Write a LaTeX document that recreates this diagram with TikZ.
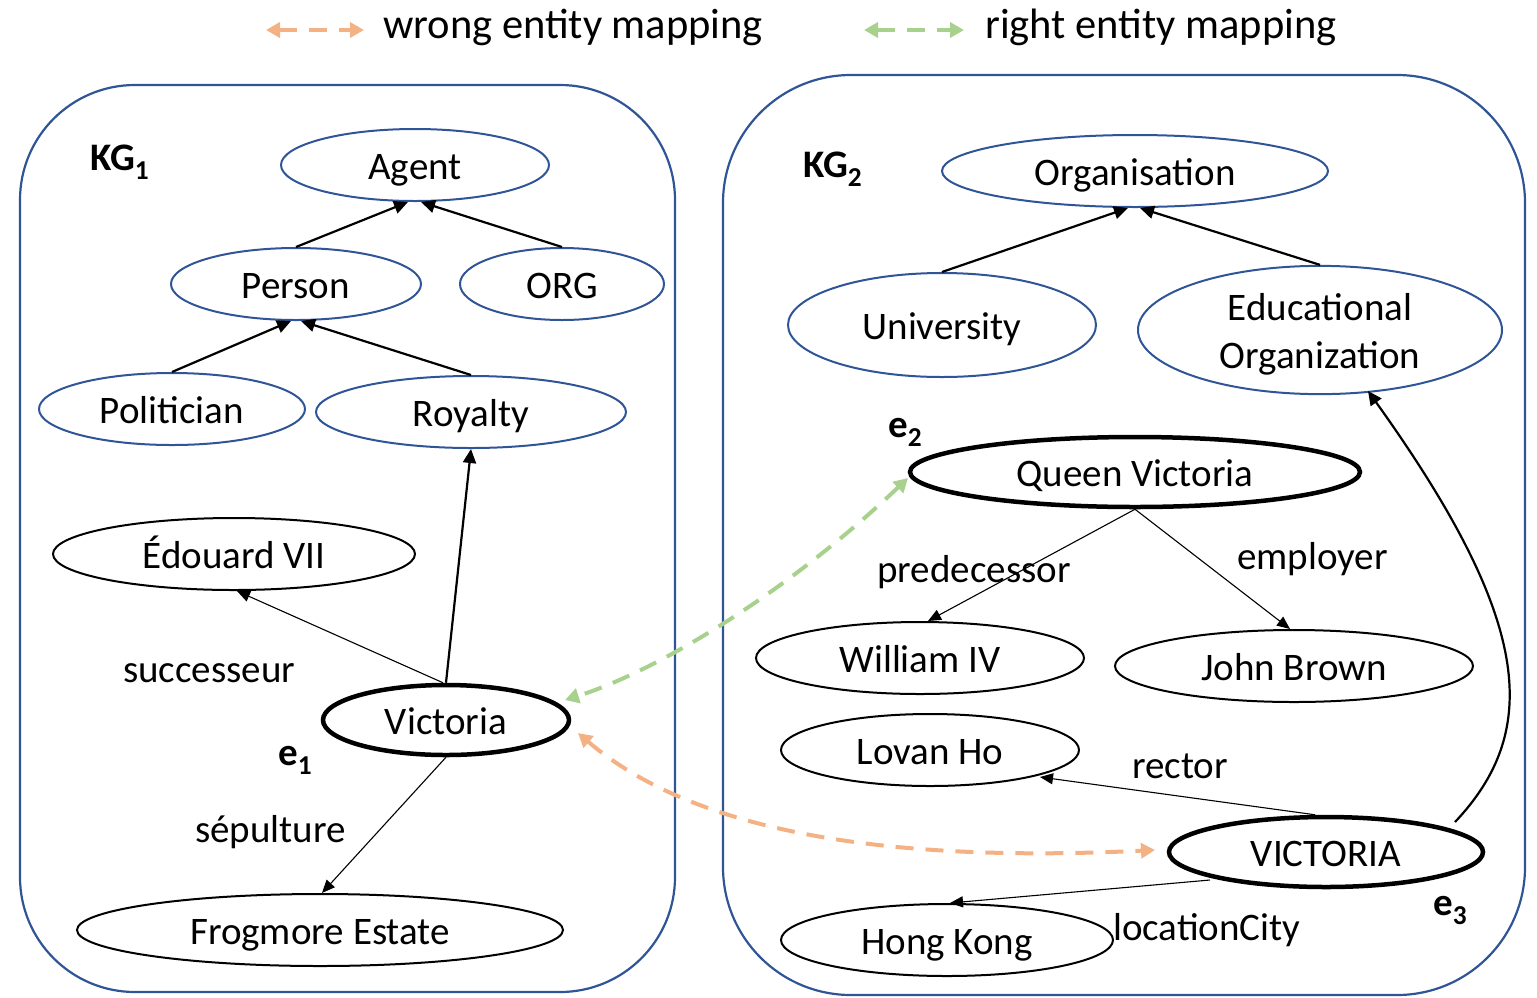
\documentclass[tikz,border=0pt]{standalone}
\usepackage{fontspec}
\setmainfont{Carlito}
\usetikzlibrary{shapes.geometric,arrows.meta,calc}
\definecolor{kgblue}{RGB}{47,85,151}
\definecolor{wrongc}{RGB}{244,177,131}
\definecolor{rightc}{RGB}{169,209,142}
\begin{document}
\begin{tikzpicture}[x=1pt,y=-1pt,
  font=\fontsize{39}{48}\selectfont,
  kgbox/.style={draw=kgblue,line width=2.2pt,rounded corners=115pt},
  oval/.style={ellipse,inner sep=0pt,align=center,text height=32pt,text depth=3pt},
  cls/.style={oval,draw=kgblue,line width=2pt},
  ent/.style={oval,draw=black,line width=2pt},
  seed/.style={oval,draw=black,line width=4.5pt},
  isa/.style={line width=2.2pt,-{Triangle[length=14pt,width=13pt]}},
  rel/.style={line width=1.1pt,-{Triangle[length=13pt,width=11pt]}},
  mapw/.style={draw=wrongc,line width=4pt,dash pattern=on 18pt off 12pt,
    {Triangle[length=14pt,width=15pt]}-{Triangle[length=14pt,width=15pt]}},
  mapr/.style={draw=rightc,line width=4pt,dash pattern=on 18pt off 12pt,
    {Triangle[length=14pt,width=15pt]}-{Triangle[length=14pt,width=15pt]}},
  lbl/.style={anchor=base west,inner sep=0pt}
]
\useasboundingbox (0,0) rectangle (1537,997);

% legend
\coordinate (lw1) at (266,30); \coordinate (lw2) at (364,30);
\coordinate (lr1) at (864,30); \coordinate (lr2) at (964,30);
\draw[mapw] (lw1) -- (lw2);
\draw[mapr] (lr1) -- (lr2);
\node[lbl,font=\fontsize{42.5}{48}\selectfont] (legw) at (383,38) {wrong entity mapping};
\node[lbl,font=\fontsize{42.5}{48}\selectfont] (legr) at (985,38) {right entity mapping};

% the two knowledge graphs
\draw[kgbox] (20,85) rectangle (675,992);
\draw[kgbox,rounded corners=128pt] (723,75) rectangle (1525,995);

% KG1
\node[lbl] (kg1) at (90,170) {\textbf{KG\textsubscript{1}}};
\node[cls,minimum width=268pt,minimum height=72pt] (agent) at (415,165) {Agent};
\node[cls,minimum width=250pt,minimum height=72pt] (person) at (296,284) {Person};
\node[cls,minimum width=204pt,minimum height=72pt] (org) at (562,284) {ORG};
\node[cls,minimum width=266pt,minimum height=72pt] (politician) at (172,409) {Politician};
\node[cls,minimum width=310pt,minimum height=72pt] (royalty) at (471,412) {Royalty};
\node[ent,minimum width=362pt,minimum height=72pt] (edouard) at (234,554) {Édouard VII};
\node[seed,minimum width=246pt,minimum height=70pt] (victoria) at (446,720) {Victoria};
\node[ent,minimum width=486pt,minimum height=72pt] (frogmore) at (320,930) {Frogmore Estate};
\node[lbl] (succ) at (123,682) {successeur};
\node[lbl] (e1) at (278,765) {\textbf{e\textsubscript{1}}};
\node[lbl] (sep) at (195,842) {sépulture};

\draw[isa] (person.north) -- ([xshift=-7pt]agent.south);
\draw[isa] (org.north) -- ([xshift=6pt]agent.south);
\draw[isa] (politician.north) -- ([xshift=-5pt]person.south);
\draw[isa] (royalty.north) -- ([xshift=5pt]person.south);
\draw[isa] (victoria.north) -- (royalty.south);
\draw[rel] ([xshift=-3pt]victoria.north) -- ([xshift=3pt]edouard.south);
\draw[rel] (victoria.south) -- ([xshift=2pt]frogmore.north);

% KG2
\node[lbl] (kg2) at (803,177) {\textbf{KG\textsubscript{2}}};
\node[cls,minimum width=386pt,minimum height=72pt] (organisation) at (1135,171) {Organisation};
\node[cls,minimum width=308pt,minimum height=104pt] (university) at (942,325) {University};
\node[ellipse,draw=kgblue,line width=2pt,inner sep=0pt,align=center,
      minimum width=364pt,minimum height=122pt] (edu) at (1320,330)
      {\rule{0pt}{36pt}Educational\\Organization};
\node[lbl] (e2) at (888,437) {\textbf{e\textsubscript{2}}};
\node[seed,minimum width=450pt,minimum height=70pt] (qv) at (1135,472) {Queen Victoria};
\node[ent,minimum width=328pt,minimum height=72pt] (william) at (920,658) {William IV};
\node[ent,minimum width=358pt,minimum height=72pt] (john) at (1294,666) {John Brown};
\node[ent,minimum width=298pt,minimum height=72pt] (lovan) at (930,750) {Lovan Ho};
\node[seed,minimum width=314pt,minimum height=70pt] (v3) at (1326,852) {VICTORIA};
\node[ent,minimum width=332pt,minimum height=72pt] (hk) at (947,940) {Hong Kong};
\node[lbl] (pred) at (877,582) {predecessor};
\node[lbl] (empl) at (1237,569) {employer};
\node[lbl] (rect) at (1132,778) {rector};
\node[lbl] (e3) at (1433,915) {\textbf{e\textsubscript{3}}};
\node[lbl] (loc) at (1113,940) {locationCity};

\draw[isa] (university.north) -- ([xshift=-7pt]organisation.south);
\draw[isa] (edu.north) -- ([xshift=5pt]organisation.south);
\draw[rel] (qv.south) -- ([xshift=8pt]william.north);
\draw[rel] (qv.south) -- ([xshift=-4pt]john.north);
\draw[rel] ([xshift=-11pt]v3.north) -- ([shift={(110,27)}]lovan.center);
\draw[rel] ([shift={(-116,28)}]v3.center) -- ([xshift=3pt]hk.north);
\draw[isa] ([shift={(129,-30)}]v3.center) .. controls (1542,730) and (1532,620) .. ([shift={(48,61)}]edu.center);

% entity mappings
\draw[mapr] ([shift={(-227,6)}]qv.center) .. controls (790,590) and (660,670) .. ([shift={(119,-20)}]victoria.center);
\draw[mapw] ([shift={(132,13)}]victoria.center) .. controls (680,820) and (850,865) .. ([shift={(-171,-2)}]v3.center);
\end{tikzpicture}
\end{document}
